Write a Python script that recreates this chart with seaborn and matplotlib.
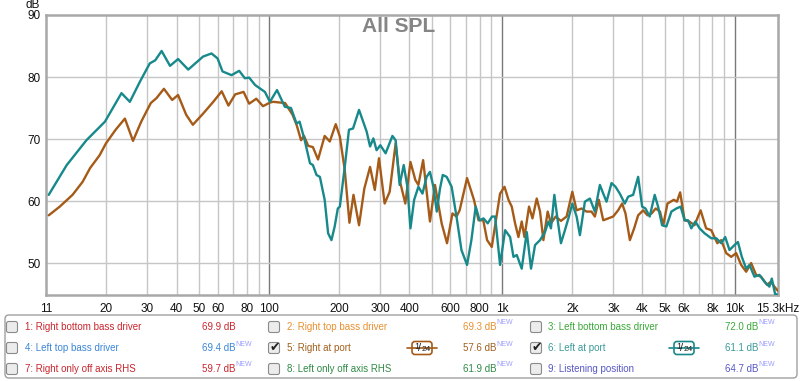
import pandas as pd
import seaborn as sns
import matplotlib.pyplot as plt
from matplotlib.patches import FancyBboxPatch
from matplotlib.ticker import NullLocator

# 5: Right at port (brown)
brown_freq = [11.3, 12.6, 14.3, 15.8, 17, 18.7, 19.9, 21.9, 24.0, 26.0,
              28.2, 31, 32.8, 35.3, 38.3, 40.6, 44, 47, 52, 57.5,
              62.5, 66.8, 71.4, 77.6, 82, 88, 94, 101, 104, 117,
              126, 131, 137, 141, 147, 154, 162, 173, 182, 193,
              201, 211, 221, 230, 243, 256, 271, 284, 296, 313,
              329, 349, 363, 384, 404, 424, 437, 458, 490, 515,
              550, 580, 612, 637, 657, 707, 757, 792, 830, 862,
              903, 980, 1024, 1065, 1100, 1137, 1175, 1214, 1247, 1305,
              1350, 1408, 1455, 1504, 1569, 1621, 1698, 1789, 1892, 2002,
              2089, 2193, 2304, 2420, 2502, 2602, 2718, 2853, 2997, 3148,
              3276, 3387, 3537, 3690, 3838, 4033, 4211, 4384, 4566, 4763,
              4921, 5128, 5290, 5461, 5635, 5814, 6076, 6364, 6700, 7119,
              7517, 7910, 8397, 8730, 9170, 9631, 10120, 10630, 11170, 11730,
              12320, 12940, 13720, 14270, 14760, 15300]
brown_db = [57.7, 59.1, 61.0, 63.1, 65.3, 67.4, 69.3, 71.5, 73.3, 69.7,
            72.8, 75.8, 76.6, 78.1, 76.3, 77.1, 73.9, 72.3, 74.1, 76.0,
            77.7, 75.4, 77.2, 77.6, 75.7, 76.5, 75.3, 75.9, 76.0, 75.8,
            73.9, 72.3, 69.8, 70.5, 68.9, 68.7, 66.7, 70.5, 69.6, 72.4,
            70.4, 65.0, 56.5, 61.0, 56.1, 62.0, 65.5, 61.8, 66.9, 59.6,
            61.5, 69.3, 63.4, 59.6, 66.3, 63.4, 62.6, 66.6, 56.7, 62.6,
            56.4, 53.2, 58.0, 57.5, 58.5, 63.7, 60.2, 56.9, 56.9, 53.7,
            52.6, 61.2, 62.3, 60.2, 59.1, 56.4, 54.2, 56.7, 54.2, 59.1,
            57.2, 60.4, 58.3, 53.7, 58.3, 56.4, 57.5, 56.8, 57.5, 61.5,
            58.5, 58.8, 58.3, 58.3, 57.5, 60.2, 56.9, 57.2, 57.5, 58.5,
            59.6, 58.0, 53.7, 55.6, 57.7, 58.5, 57.7, 58.0, 58.8, 58.3,
            56.1, 59.6, 59.9, 60.2, 59.9, 61.4, 56.9, 56.7, 56.1, 58.5,
            55.6, 55.3, 53.2, 53.7, 51.6, 51.0, 51.6, 49.7, 48.6, 50.0,
            48.1, 47.8, 46.5, 47.0, 46.2, 45.5]

# 6: Left at port (teal)
teal_freq = [11.3, 13.5, 16.4, 19.7, 23.2, 25.2, 27.8, 30.7, 32.4, 34.5,
             37.5, 40.6, 44.9, 52, 56.5, 60, 63, 68.9, 74.3, 78.6,
             82, 87, 95.8, 100.7, 108, 116.7, 124, 131, 135, 142,
             149.6, 154, 159.6, 165, 173, 179, 185, 191, 197, 201,
             211, 220, 229, 243, 262, 271, 280, 289, 300, 316,
             338, 349, 363, 378, 392, 404, 419, 437, 455, 474,
             490, 507, 524, 541, 556, 578, 607, 637, 669, 707,
             738, 770, 800, 832, 867, 905, 933, 980, 1030, 1082,
             1119, 1156, 1214, 1276, 1331, 1385, 1455, 1528, 1580, 1621,
             1676, 1732, 1789, 1861, 1936, 2002, 2089, 2158, 2267, 2382,
             2502, 2629, 2718, 2808, 2950, 3069, 3202, 3364, 3477, 3653,
             3838, 3993, 4125, 4303, 4521, 4675, 4863, 5074, 5332, 5602,
             5843, 6076, 6284, 6492, 6754, 7047, 7403, 7910, 8311, 8730,
             9078, 9472, 9952, 10290, 10700, 11170, 11540, 12120, 12730, 13380,
             14050, 14390, 14870, 15300]
teal_db = [61.0, 65.8, 69.8, 72.8, 77.4, 76.0, 79.2, 82.2, 82.7, 84.2,
           81.8, 82.9, 81.2, 83.3, 83.8, 83.0, 80.9, 80.3, 81.0, 79.8,
           79.9, 78.7, 77.6, 76.0, 77.9, 75.2, 75.0, 72.5, 72.8, 69.8,
           66.1, 65.8, 64.2, 63.9, 60.2, 54.8, 53.7, 55.9, 58.8, 59.1,
           65.5, 71.5, 71.7, 74.7, 71.2, 68.8, 70.1, 68.2, 69.0, 67.7,
           70.5, 69.8, 62.6, 65.8, 62.3, 55.6, 60.2, 62.3, 61.2, 63.9,
           64.7, 62.3, 58.3, 62.0, 64.2, 63.9, 62.3, 57.5, 52.1, 49.7,
           53.7, 59.1, 56.9, 57.2, 56.4, 57.5, 57.5, 49.7, 55.3, 54.2,
           51.0, 51.3, 49.1, 55.0, 49.1, 52.9, 53.7, 55.0, 56.7, 55.6,
           61.0, 56.9, 53.2, 55.3, 57.5, 59.6, 57.5, 54.5, 59.9, 60.4,
           58.3, 62.6, 61.2, 59.9, 62.9, 62.3, 61.2, 59.6, 60.7, 61.0,
           63.9, 59.1, 58.8, 57.5, 61.0, 59.1, 56.1, 55.9, 58.3, 58.8,
           59.1, 56.9, 56.9, 55.6, 56.7, 55.6, 54.8, 54.0, 54.0, 53.2,
           54.2, 52.1, 52.9, 53.4, 51.0, 49.1, 49.7, 47.8, 48.1, 47.0,
           46.2, 47.5, 45.0, 44.9]

tick_freqs = [11, 20, 30, 40, 50, 60, 80, 100, 200, 300, 400, 600, 800,
              1000, 2000, 3000, 4000, 5000, 6000, 8000, 10000, 15300]
tick_labels = ["11", "20", "30", "40", "50", "60", "80", "100", "200", "300",
               "400", "600", "800", "1k", "2k", "3k", "4k", "5k", "6k", "8k",
               "10k", "15.3kHz"]
grid_freqs = [20, 30, 40, 50, 60, 70, 80, 90, 100, 200, 300, 400, 500, 600,
              700, 800, 900, 1000, 2000, 3000, 4000, 5000, 6000, 7000, 8000,
              9000, 10000]
decades = [100, 1000, 10000]

# legend table, row by row
legend_labels = ["1: Right bottom bass driver", "2: Right top bass driver",
                 "3: Left bottom bass driver", "4: Left top bass driver",
                 "5: Right at port", "6: Left at port",
                 "7: Right only off axis RHS", "8: Left only off axis RHS",
                 "9: Listening position"]
legend_values = ["69.9", "69.3", "72.0", "69.4", "57.6", "61.1", "59.7", "61.9", "64.7"]
legend_new = [False, True, True, True, True, True, True, True, True]
legend_checked = [False, False, False, False, True, True, False, False, False]
legend_colors = ["#c8262e", "#e8902f", "#3aa838", "#3b86d6", "#a0601e",
                 "#3a9a9a", "#c8262e", "#2f8a45", "#5858c4"]

BROWN = "#a55b17"
TEAL = "#18898b"
W, H = 800, 381


def main():
    sns.set_style("white")
    plt.rcParams["font.family"] = ["Liberation Sans", "DejaVu Sans"]

    fig = plt.figure(figsize=(W / 100, H / 100), dpi=100)
    ax = fig.add_axes([46 / W, 1 - 295 / H, (778 - 46) / W, (295 - 15) / H])

    df = pd.concat([
        pd.DataFrame({"freq": brown_freq, "dB": brown_db, "trace": "5: Right at port"}),
        pd.DataFrame({"freq": teal_freq, "dB": teal_db, "trace": "6: Left at port"}),
    ])
    sns.lineplot(data=df, x="freq", y="dB", hue="trace",
                 palette={"5: Right at port": BROWN, "6: Left at port": TEAL},
                 estimator=None, linewidth=1.7, legend=False, ax=ax, zorder=3)

    ax.set_xscale("log")
    ax.set_xlim(11.3, 15300)
    ax.set_ylim(44.85, 90)
    for f in grid_freqs:
        ax.axvline(f, color="#7a7a7a" if f in decades else "#c6c6c6", lw=1, zorder=1)
    for y in [50, 60, 70, 80]:
        ax.axhline(y, color="#c6c6c6", lw=1, zorder=1)

    ax.set_xticks(tick_freqs)
    ax.set_xticklabels(tick_labels)
    ax.xaxis.set_minor_locator(NullLocator())
    ax.set_yticks([50, 60, 70, 80, 90])
    ax.tick_params(axis="both", length=0, labelsize=8.5, colors="#111111")
    ax.tick_params(axis="x", pad=6)
    ax.tick_params(axis="y", pad=4)
    ax.set_xlabel("")
    ax.set_ylabel("")
    for s in ax.spines.values():
        s.set_color("#a8a8a8")
        s.set_linewidth(1.8)

    # overlay in pixel coordinates for the texts and the legend panel
    lax = fig.add_axes([0, 0, 1, 1])
    lax.set_xlim(0, W)
    lax.set_ylim(H, 0)
    lax.axis("off")

    lax.text(33, 5, "dB", ha="center", va="center", fontsize=8.5, color="#111111")
    lax.text(399, 26, "All SPL", ha="center", va="center", fontsize=15,
             fontweight="bold", color="#858585")

    lax.add_patch(FancyBboxPatch((5, 315), 792, 63,
                                 boxstyle="round,pad=0,rounding_size=4",
                                 fc="white", ec="#a0a0a0", lw=1))
    rows = [327, 348, 369]
    box_x = [12, 274, 536]
    label_x = [25, 287, 548]
    value_x = [202, 463, 725]
    for i, lab in enumerate(legend_labels):
        r, c = divmod(i, 3)
        y = rows[r]
        col = legend_colors[i]
        lax.add_patch(FancyBboxPatch((box_x[c] - 5.5, y - 5.5), 11, 11,
                                     boxstyle="round,pad=0,rounding_size=2",
                                     fc="#ececec", ec="#8a8a8a", lw=0.8))
        if legend_checked[i]:
            lax.text(box_x[c] + 1, y, "\u2714", ha="center", va="center",
                     fontsize=9, color="#222222")
        lax.text(label_x[c], y, lab, ha="left", va="center", fontsize=7, color=col)
        lax.text(value_x[c], y, legend_values[i] + " dB", ha="left", va="center",
                 fontsize=7, color=col)
        if legend_new[i]:
            lax.text(value_x[c] + 33.5, y - 4, "NEW", ha="left", va="center",
                     fontsize=5, color="#9c9cff")
        if legend_checked[i]:
            cx = 422 if c == 1 else 684
            lc = BROWN if c == 1 else TEAL
            lax.plot([cx - 15, cx + 15], [y, y], color=lc, lw=1.2)
            lax.add_patch(FancyBboxPatch((cx - 10, y - 6.5), 20, 13,
                                         boxstyle="round,pad=0,rounding_size=3",
                                         fc="white", ec=lc, lw=1.2))
            lax.text(cx - 5.5, y - 1.5, "1", ha="center", va="center",
                     fontsize=6.5, color="#222222")
            lax.text(cx - 2, y, "/", ha="center", va="center",
                     fontsize=8, color="#222222")
            lax.text(cx + 4, y + 1.5, "24", ha="center", va="center",
                     fontsize=6, color="#222222")

    fig.savefig("out.png", dpi=100)


if __name__ == '__main__':
    main()
